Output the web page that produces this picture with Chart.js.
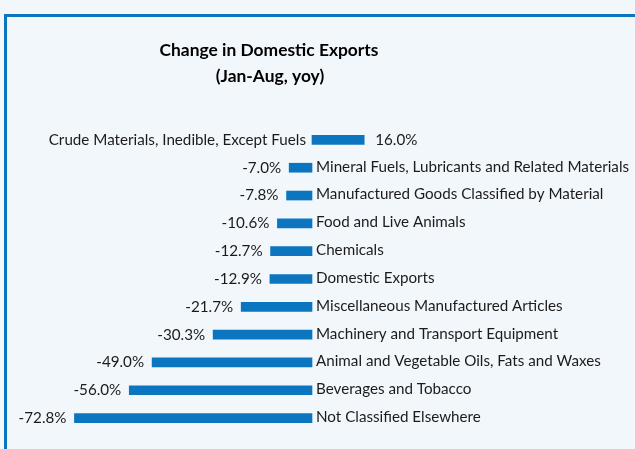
<!DOCTYPE html>
<html>
<head>
<meta charset="utf-8">
<script src="https://cdn.jsdelivr.net/npm/chart.js@4/dist/chart.umd.min.js"></script>
<style>
  html, body { margin: 0; padding: 0; background: #f2f7fc; }
  #wrap { position: relative; width: 635px; height: 449px; }
</style>
</head>
<body>
<div id="wrap"><canvas id="c" width="635" height="449"></canvas></div>
<script>
const categories = [
  'Crude Materials, Inedible, Except Fuels',
  'Mineral Fuels, Lubricants and Related Materials',
  'Manufactured Goods Classified by Material',
  'Food and Live Animals',
  'Chemicals',
  'Domestic Exports',
  'Miscellaneous Manufactured Articles',
  'Machinery and Transport Equipment',
  'Animal and Vegetable Oils, Fats and Waxes',
  'Beverages and Tobacco',
  'Not Classified Elsewhere'
];
const changes = [16.0, -7.0, -7.8, -10.6, -12.7, -12.9, -21.7, -30.3, -49.0, -56.0, -72.8];
const titleLines = ['Change in Domestic Exports', '(Jan-Aug, yoy)'];

const BLUE = '#0b76bf';
const TEXT = '#1b1b1b';
const LABEL_FONT = '15.2px Lato, sans-serif';

const decor = {
  id: 'decor',
  beforeDraw(chart) {
    const ctx = chart.ctx;
    ctx.save();
    ctx.fillStyle = '#f2f7fc';
    ctx.fillRect(0, 0, chart.width, chart.height);
    ctx.fillStyle = BLUE;
    ctx.fillRect(4, 14, chart.width - 4, 3);
    ctx.fillRect(4, 14, 3, chart.height - 14);
    ctx.fillStyle = '#000';
    ctx.textAlign = 'center';
    ctx.textBaseline = 'middle';
    ctx.font = 'bold 17.4px Lato, sans-serif';
    ctx.fillText(titleLines[0], 269, 50);
    ctx.fillText(titleLines[1], 270, 76);
    ctx.restore();
  },
  afterDatasetsDraw(chart) {
    const ctx = chart.ctx;
    const meta = chart.getDatasetMeta(0);
    const x0 = chart.scales.x.getPixelForValue(0);
    ctx.save();
    ctx.font = LABEL_FONT;
    ctx.fillStyle = TEXT;
    ctx.textBaseline = 'middle';
    meta.data.forEach((bar, i) => {
      const v = changes[i];
      const y = bar.y;
      const txt = v.toFixed(1) + '%';
      if (v >= 0) {
        ctx.textAlign = 'left';
        ctx.fillText(txt, bar.x + 11, y);
        ctx.textAlign = 'right';
        ctx.fillText(categories[i], x0 - 6, y);
      } else {
        ctx.textAlign = 'right';
        ctx.fillText(txt, bar.x - 8, y);
        ctx.textAlign = 'left';
        ctx.fillText(categories[i], x0 + 4, y - 1);
      }
    });
    ctx.restore();
  }
};

new Chart(document.getElementById('c'), {
  type: 'bar',
  data: {
    labels: categories,
    datasets: [{
      data: changes,
      backgroundColor: BLUE,
      borderWidth: 0,
      barThickness: 9
    }]
  },
  options: {
    indexAxis: 'y',
    responsive: false,
    animation: false,
    layout: { padding: { left: 2, right: 13, top: 126, bottom: 17 } },
    scales: {
      x: { display: false, min: -95, max: 95 },
      y: { display: false }
    },
    plugins: {
      legend: { display: false },
      tooltip: { enabled: false },
      title: { display: false }
    }
  },
  plugins: [decor]
});
</script>
</body>
</html>
